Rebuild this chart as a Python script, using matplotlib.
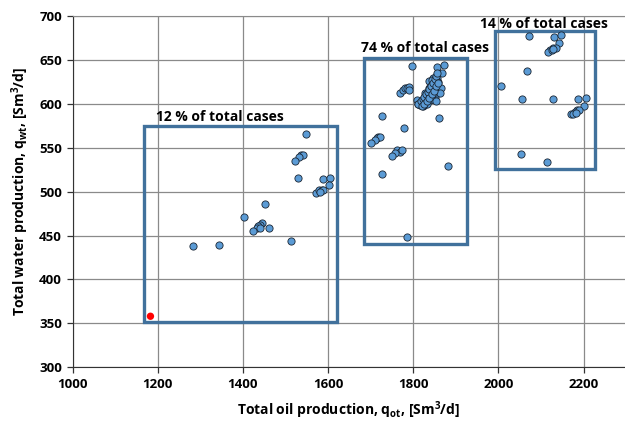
import matplotlib
matplotlib.use("Agg")
import matplotlib.pyplot as plt
from matplotlib.patches import Rectangle

plt.rcParams['font.family'] = ['Open Sans', 'DejaVu Sans']
plt.rcParams['mathtext.fontset'] = 'custom'
plt.rcParams['mathtext.rm'] = 'Open Sans'
plt.rcParams['mathtext.bf'] = 'Open Sans:bold'
plt.rcParams['mathtext.it'] = 'Open Sans:italic'

# Data: total oil production (x) and total water production (y)
oil_g1 = [1548, 1536, 1542, 1532, 1522, 1530, 1587, 1605, 1602, 1571, 1579, 1585,
          1589, 1581, 1451, 1403, 1446, 1440, 1436, 1432, 1424, 1461, 1439, 1282,
          1345, 1512]
water_g1 = [566, 542, 542, 540, 535, 515, 514, 516, 508, 498, 502, 502,
            502, 500, 486, 471, 464, 462, 461, 459, 455, 458, 458, 438,
            439, 444]

oil_g2 = [1796, 1855, 1872, 1867, 1836, 1847, 1855, 1843, 1851, 1859, 1865, 1840,
          1828, 1847, 1832, 1820, 1816, 1808, 1824, 1840, 1851, 1855, 1836, 1846,
          1857, 1832, 1843, 1861, 1769, 1777, 1781, 1785, 1789, 1791, 1727, 1778,
          1718, 1714, 1722, 1710, 1701, 1761, 1768, 1773, 1757, 1750, 1881, 1727,
          1785, 1838, 1826, 1850, 1862, 1844, 1834, 1822, 1853, 1848, 1812,
          1812, 1818, 1822, 1826, 1830, 1834, 1838, 1842, 1846, 1850, 1853, 1856,
          1820, 1826, 1832, 1838, 1844, 1849, 1854, 1858]
water_g2 = [643, 642, 644, 635, 626, 629, 630, 623, 621, 620, 618, 616,
            612, 610, 606, 602, 599, 604, 599, 604, 608, 612, 618, 620,
            625, 600, 606, 584, 612, 616, 618, 618, 619, 616, 586, 572,
            562, 561, 562, 559, 555, 547, 545, 547, 544, 541, 529, 520,
            448, 613, 603, 615, 612, 627, 609, 597, 603, 617, 600,
            600, 603, 606, 608, 611, 614, 617, 620, 624, 628, 632, 635,
            597, 600, 603, 607, 611, 615, 620, 624]

oil_g3 = [2072, 2131, 2147, 2143, 2129, 2136, 2121, 2116, 2125, 2128, 2066, 2006,
          2056, 2129, 2186, 2206, 2201, 2184, 2180, 2190, 2170, 2176, 2183, 2053,
          2113]
water_g3 = [677, 676, 678, 669, 664, 664, 661, 659, 661, 663, 637, 620,
            606, 606, 605, 607, 598, 593, 591, 593, 588, 589, 590, 543,
            534]

base_oil = [1183]
base_water = [358]

boxes = [(1168, 352, 1620, 575), (1684, 440, 1926, 652), (1992, 526, 2227, 683)]
box_labels = ["12 % of total cases", "74 % of total cases", "14 % of total cases"]
label_pos = [(1346, 585), (1828, 663.5), (2106, 691)]

fig = plt.figure(figsize=(6.25, 4.23), dpi=100)
ax = fig.add_axes([0.116, 0.132, 0.884, 0.830])

ax.set_xlim(1000, 2297)
ax.set_ylim(300, 700)
ax.set_xticks(range(1000, 2201, 200))
ax.set_yticks(range(300, 701, 50))
ax.grid(True, color='#8a8a8a', linewidth=0.9)
ax.set_axisbelow(True)
ax.spines['right'].set_visible(False)
ax.spines['top'].set_color('#8a8a8a')
ax.spines['left'].set_color('#333333')
ax.spines['bottom'].set_color('#333333')
ax.tick_params(direction='out', length=4, width=0.9, color='#333333', labelsize=9.5)
for lab in ax.get_xticklabels() + ax.get_yticklabels():
    lab.set_fontweight('bold')

for (x0, y0, x1, y1) in boxes:
    ax.add_patch(Rectangle((x0, y0), x1 - x0, y1 - y0, fill=False,
                           edgecolor='#41719C', linewidth=2.4, zorder=2))

allx = oil_g1 + oil_g2 + oil_g3
ally = water_g1 + water_g2 + water_g3
ax.scatter(allx, ally, s=27, c='#5B9BD5', edgecolors='#1a2633', linewidths=0.6, zorder=3)
ax.scatter(base_oil, base_water, s=28, c='#FF0000', edgecolors='none', zorder=3)

for t, (x, y) in zip(box_labels, label_pos):
    ax.text(x, y, t, ha='center', va='center', fontsize=10, fontweight='bold', zorder=4)

ax.set_xlabel(r"Total oil production, $\mathbf{q_{ot}}$, [Sm$\mathbf{^3}$/d]",
              fontsize=10, fontweight='bold', labelpad=6)
ax.set_ylabel(r"Total water production, $\mathbf{q_{wt}}$, [Sm$\mathbf{^3}$/d]",
              fontsize=10, fontweight='bold', labelpad=6)

fig.savefig("out.png", dpi=100)
